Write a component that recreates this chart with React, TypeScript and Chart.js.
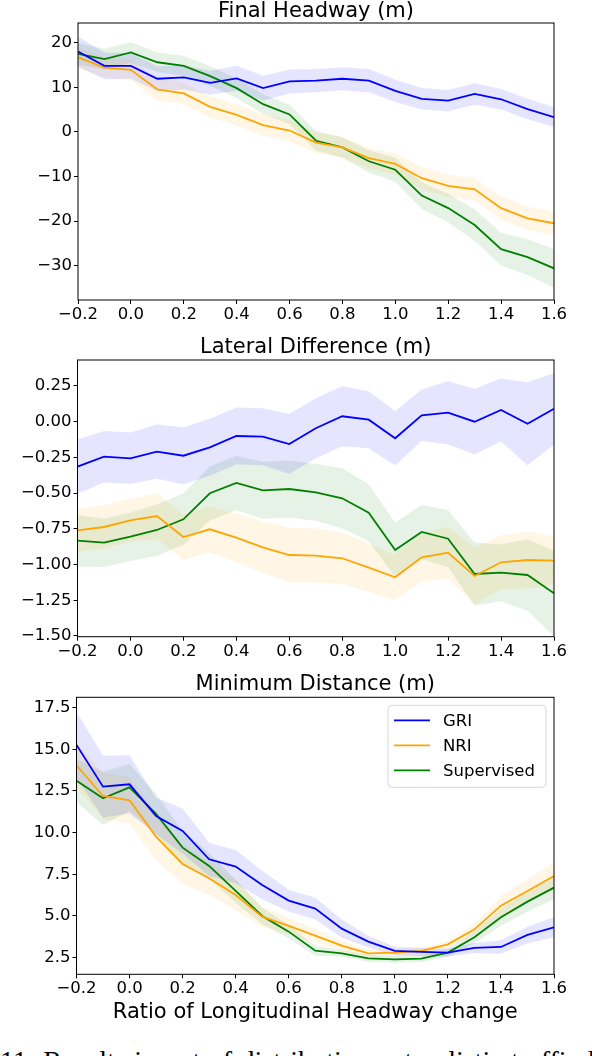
import React, { useEffect, useRef } from 'react';
import { Chart, registerables } from 'chart.js';

Chart.register(...registerables);
Chart.defaults.font.family = '"DejaVu Sans", sans-serif';
Chart.defaults.color = '#000';

const ratios = [-0.2, -0.1, 0.0, 0.1, 0.2, 0.3, 0.4, 0.5, 0.6, 0.7, 0.8, 0.9, 1.0, 1.1, 1.2, 1.3, 1.4, 1.5, 1.6];
const xTicks = [-0.2, 0.0, 0.2, 0.4, 0.6, 0.8, 1.0, 1.2, 1.4, 1.6];

const seriesNames = ['GRI', 'NRI', 'Supervised'];
const seriesColors = ['#0000ff', '#ffa500', '#008000'];
const bandColors = ['rgba(0, 0, 255, 0.1)', 'rgba(255, 165, 0, 0.1)', 'rgba(0, 128, 0, 0.1)'];

// Final Headway (m)
const headwayGRI = [18.0, 14.8, 14.8, 11.9, 12.2, 11.0, 12.0, 9.8, 11.3, 11.5, 11.9, 11.5, 9.2, 7.4, 7.0, 8.5, 7.3, 5.1, 3.3];
const headwayNRI = [16.7, 14.4, 13.9, 9.5, 8.6, 5.6, 3.8, 1.5, 0.3, -2.4, -3.5, -5.9, -7.2, -10.4, -12.1, -12.9, -17.1, -19.4, -20.5];
const headwaySup = [17.5, 16.3, 17.8, 15.6, 14.8, 12.5, 9.8, 6.2, 3.9, -2.0, -3.5, -6.6, -8.5, -14.3, -17.1, -20.9, -26.3, -28.1, -30.6];
const headwayGRIStd = [3.4, 3.0, 2.9, 2.8, 2.7, 2.7, 2.8, 2.8, 2.7, 2.6, 2.6, 2.6, 2.5, 2.4, 2.4, 2.4, 2.3, 2.3, 2.2];
const headwayNRIStd = [2.3, 2.3, 2.4, 2.4, 2.4, 2.4, 2.4, 2.4, 2.4, 2.3, 2.3, 2.3, 2.4, 2.5, 2.5, 2.5, 2.6, 2.6, 2.6];
const headwaySupStd = [2.4, 2.3, 2.3, 2.2, 2.2, 2.2, 2.2, 2.2, 2.2, 2.2, 2.3, 2.5, 2.7, 3.0, 3.2, 3.5, 3.7, 4.0, 4.3];
const headwayTicks = [-30, -20, -10, 0, 10, 20];

// Lateral Difference (m)
const lateralGRI = [-0.315, -0.245, -0.256, -0.21, -0.238, -0.179, -0.1, -0.105, -0.156, -0.046, 0.038, 0.014, -0.116, 0.045, 0.063, 0.0, 0.082, -0.014, 0.091];
const lateralNRI = [-0.76, -0.737, -0.69, -0.66, -0.807, -0.753, -0.812, -0.879, -0.933, -0.938, -0.956, -1.022, -1.089, -0.949, -0.917, -1.08, -0.984, -0.968, -0.973];
const lateralSup = [-0.833, -0.847, -0.805, -0.758, -0.683, -0.501, -0.429, -0.48, -0.471, -0.494, -0.536, -0.637, -0.898, -0.772, -0.819, -1.066, -1.057, -1.073, -1.201];
const lateralGRIStd = [0.19, 0.18, 0.18, 0.19, 0.2, 0.2, 0.2, 0.2, 0.21, 0.21, 0.21, 0.2, 0.19, 0.18, 0.22, 0.23, 0.22, 0.29, 0.25];
const lateralNRIStd = [0.15, 0.15, 0.15, 0.16, 0.16, 0.16, 0.17, 0.18, 0.19, 0.19, 0.18, 0.17, 0.16, 0.17, 0.18, 0.2, 0.19, 0.2, 0.17];
const lateralSupStd = [0.18, 0.17, 0.17, 0.18, 0.18, 0.19, 0.19, 0.2, 0.2, 0.2, 0.21, 0.2, 0.19, 0.19, 0.2, 0.22, 0.2, 0.25, 0.3];
const lateralTicks = [-1.5, -1.25, -1.0, -0.75, -0.5, -0.25, 0.0, 0.25];

// Minimum Distance (m)
const distanceGRI = [15.26, 12.76, 12.9, 11.0, 10.1, 8.4, 7.96, 6.86, 5.92, 5.44, 4.24, 3.46, 2.9, 2.84, 2.8, 3.08, 3.14, 3.86, 4.32];
const distanceNRI = [14.04, 12.2, 11.94, 9.76, 8.12, 7.26, 6.26, 4.96, 4.4, 3.82, 3.22, 2.76, 2.8, 2.9, 3.3, 4.2, 5.62, 6.5, 7.4];
const distanceSup = [13.12, 12.06, 12.72, 11.12, 9.1, 8.0, 6.5, 5.0, 4.06, 2.92, 2.76, 2.46, 2.4, 2.44, 2.8, 3.72, 4.92, 5.86, 6.7];
const distanceGRIStd = [2.0, 1.85, 1.75, 1.1, 1.35, 1.0, 1.0, 0.85, 0.65, 0.65, 0.55, 0.35, 0.25, 0.25, 0.25, 0.3, 0.4, 0.5, 0.6];
const distanceNRIStd = [1.3, 1.4, 1.4, 1.4, 1.2, 1.0, 0.9, 0.6, 0.5, 0.4, 0.3, 0.2, 0.2, 0.2, 0.2, 0.35, 0.6, 0.7, 0.8];
const distanceSupStd = [1.3, 1.6, 1.4, 1.2, 1.0, 0.8, 0.7, 0.5, 0.4, 0.3, 0.2, 0.2, 0.2, 0.2, 0.25, 0.35, 0.5, 0.6, 0.7];
const distanceTicks = [2.5, 5.0, 7.5, 10.0, 12.5, 15.0, 17.5];

const fmt = (v: number, d: number) => (v < -1e-9 ? '\u2212' : '') + Math.abs(v).toFixed(d);

// spines on all four sides + optional matplotlib-style legend
const framePlugin = {
  id: 'frame',
  afterDraw(chart: any, _args: any, opts: any) {
    const { ctx, chartArea: a } = chart;
    ctx.save();
    ctx.strokeStyle = '#000';
    ctx.lineWidth = 1;
    ctx.strokeRect(a.left, a.top, a.right - a.left, a.bottom - a.top);
    if (opts && opts.legend) {
      const w = 158;
      const h = 82;
      const x = a.right - 8 - w;
      const y = a.top + 8;
      ctx.beginPath();
      ctx.roundRect(x, y, w, h, 4);
      ctx.fillStyle = 'rgba(255,255,255,0.8)';
      ctx.fill();
      ctx.strokeStyle = '#d6d6d6';
      ctx.stroke();
      ctx.font = '16.5px "DejaVu Sans"';
      ctx.textBaseline = 'middle';
      ctx.textAlign = 'left';
      seriesNames.forEach((name, i) => {
        const ry = y + 15 + i * 25;
        ctx.beginPath();
        ctx.moveTo(x + 6, ry);
        ctx.lineTo(x + 42, ry);
        ctx.strokeStyle = seriesColors[i];
        ctx.lineWidth = 1.8;
        ctx.stroke();
        ctx.fillStyle = '#000';
        ctx.fillText(name, x + 55, ry + 1);
      });
    }
    ctx.restore();
  },
};

type PanelProps = {
  title: string;
  means: number[][];
  stds: number[][];
  yMin: number;
  yMax: number;
  yTicks: number[];
  decimals: number;
  top: number;
  height: number;
  yAxisWidth: number;
  xAxisHeight: number;
  titlePad: { top: number; bottom: number };
  xTitle?: string;
  xTitlePad?: number;
  legend?: boolean;
};

const Panel: React.FC<PanelProps> = (p) => {
  const chartRef = useRef<HTMLCanvasElement>(null);
  const chartInstance = useRef<Chart | null>(null);

  useEffect(() => {
    if (!chartRef.current) return;
    if (chartInstance.current) chartInstance.current.destroy();
    const ctx = chartRef.current.getContext('2d');
    if (!ctx) return;

    const datasets: any[] = [];
    p.means.forEach((mean, i) => {
      const std = p.stds[i];
      datasets.push({
        label: seriesNames[i] + ' low',
        data: ratios.map((x, j) => ({ x, y: mean[j] - std[j] })),
        borderWidth: 0,
        pointRadius: 0,
        fill: false,
      });
      datasets.push({
        label: seriesNames[i] + ' high',
        data: ratios.map((x, j) => ({ x, y: mean[j] + std[j] })),
        borderWidth: 0,
        pointRadius: 0,
        backgroundColor: bandColors[i],
        fill: '-1',
      });
      datasets.push({
        label: seriesNames[i],
        data: ratios.map((x, j) => ({ x, y: mean[j] })),
        borderColor: seriesColors[i],
        borderWidth: 1.8,
        pointRadius: 0,
        tension: 0,
        fill: false,
      });
    });

    chartInstance.current = new Chart(ctx, {
      type: 'line',
      data: { datasets },
      plugins: [framePlugin],
      options: {
        animation: false,
        responsive: false,
        layout: { padding: { left: 0, right: 38, top: 0, bottom: 0 } },
        plugins: {
          legend: { display: false },
          tooltip: { enabled: false },
          filler: { drawTime: 'beforeDatasetsDraw' },
          title: {
            display: true,
            text: p.title,
            fullSize: false,
            color: '#000',
            font: { size: 21, weight: 'normal', lineHeight: 1 },
            padding: p.titlePad,
          },
          frame: { legend: !!p.legend },
        } as any,
        scales: {
          x: {
            type: 'linear',
            min: -0.2,
            max: 1.6,
            afterFit: (scale: any) => { scale.height = p.xAxisHeight; },
            afterBuildTicks: (scale: any) => { scale.ticks = xTicks.map((value) => ({ value })); },
            border: { display: false },
            grid: { drawOnChartArea: false, drawTicks: true, tickLength: 4, color: '#000' },
            ticks: {
              autoSkip: false,
              maxRotation: 0,
              padding: 1,
              color: '#000',
              font: { size: 16.5 },
              callback: (v: any) => fmt(Number(v), 1),
            },
            title: p.xTitle
              ? {
                  display: true,
                  text: p.xTitle,
                  color: '#000',
                  font: { size: 21, lineHeight: 1 },
                  padding: { top: 0, bottom: p.xTitlePad || 0 },
                }
              : { display: false },
          },
          y: {
            type: 'linear',
            min: p.yMin,
            max: p.yMax,
            afterFit: (scale: any) => { scale.width = p.yAxisWidth; },
            afterBuildTicks: (scale: any) => { scale.ticks = p.yTicks.map((value) => ({ value })); },
            border: { display: false },
            grid: { drawOnChartArea: false, drawTicks: true, tickLength: 4, color: '#000' },
            ticks: {
              autoSkip: false,
              padding: 2,
              color: '#000',
              font: { size: 16.5 },
              callback: (v: any) => fmt(Number(v), p.decimals),
            },
          },
        },
      } as any,
    });

    return () => {
      if (chartInstance.current) {
        chartInstance.current.destroy();
        chartInstance.current = null;
      }
    };
  }, []);

  return (
    <div style={{ position: 'absolute', left: 0, top: p.top, width: 592, height: p.height }}>
      <canvas ref={chartRef} width={592} height={p.height} style={{ width: 592, height: p.height }}></canvas>
    </div>
  );
};

export default function App() {
  return (
    <div style={{ position: 'absolute', left: 0, top: 0, width: 592, height: 1056, overflow: 'hidden', background: '#fff' }}>
      <Panel
        title="Final Headway (m)"
        means={[headwayGRI, headwayNRI, headwaySup]}
        stds={[headwayGRIStd, headwayNRIStd, headwaySupStd]}
        yMin={-37.7}
        yMax={24.4}
        yTicks={headwayTicks}
        decimals={0}
        top={0}
        height={330}
        yAxisWidth={78}
        xAxisHeight={30}
        titlePad={{ top: 1.5, bottom: 0.5 }}
      />
      <Panel
        title="Lateral Difference (m)"
        means={[lateralGRI, lateralNRI, lateralSup]}
        stds={[lateralGRIStd, lateralNRIStd, lateralSupStd]}
        yMin={-1.505}
        yMax={0.432}
        yTicks={lateralTicks}
        decimals={2}
        top={330}
        height={330}
        yAxisWidth={77.5}
        xAxisHeight={23.3}
        titlePad={{ top: 6.8, bottom: 2.2 }}
      />
      <Panel
        title="Minimum Distance (m)"
        means={[distanceGRI, distanceNRI, distanceSup]}
        stds={[distanceGRIStd, distanceNRIStd, distanceSupStd]}
        yMin={1.5}
        yMax={18.12}
        yTicks={distanceTicks}
        decimals={1}
        top={660}
        height={372}
        yAxisWidth={76.5}
        xAxisHeight={57.7}
        titlePad={{ top: 14.5, bottom: 1.8 }}
        xTitle="Ratio of Longitudinal Headway change"
        xTitlePad={8.5}
        legend
      />
      <div
        style={{
          position: 'absolute',
          left: 0,
          top: 1047,
          fontFamily: '"Liberation Serif", serif',
          fontSize: 28,
          lineHeight: '28px',
          wordSpacing: 1.5,
          whiteSpace: 'nowrap',
          color: '#000',
        }}
      >
        11: Results in out of distribution naturalistic traffic lane change
      </div>
    </div>
  );
}
